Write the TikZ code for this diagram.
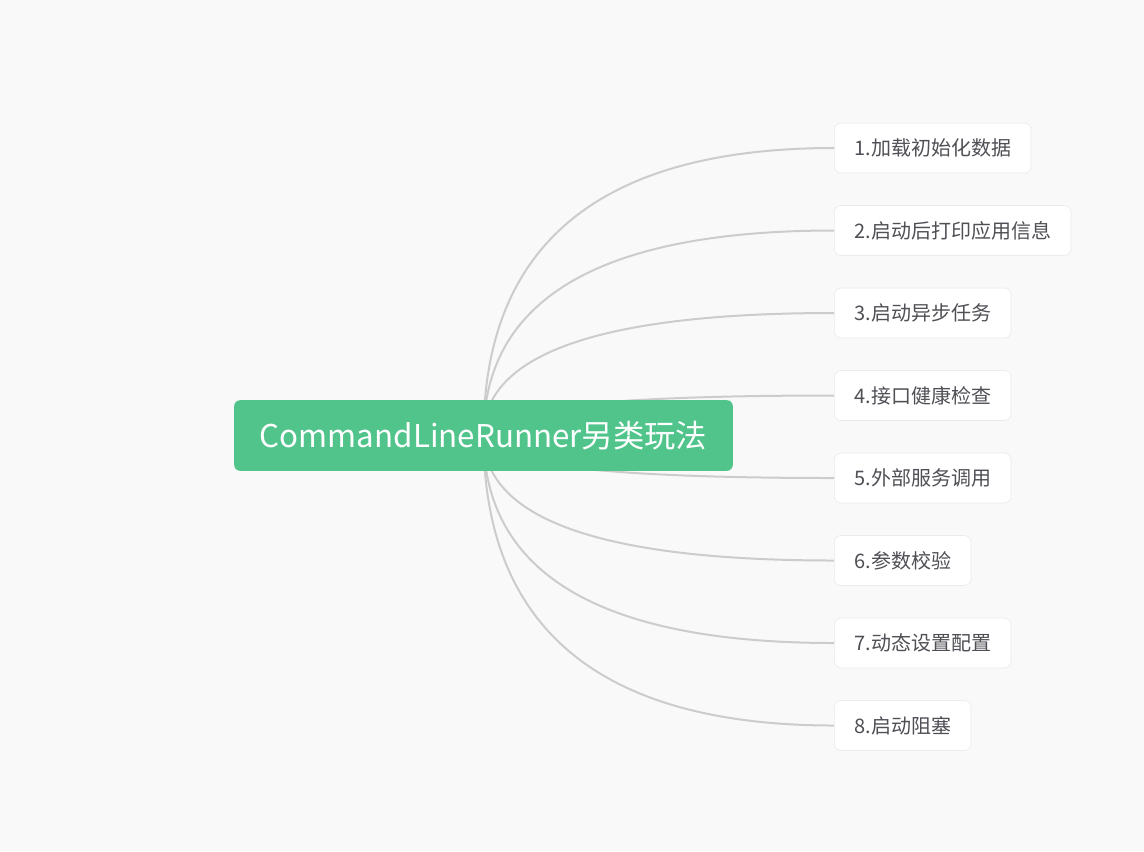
\documentclass[tikz,border=0pt]{standalone}
\usepackage{fontspec}
\setmainfont{Noto Sans CJK SC}
\usetikzlibrary{positioning,calc}
\definecolor{Paper}{HTML}{F9F9F9}
\definecolor{Mint}{HTML}{50C48B}
\definecolor{Ink}{HTML}{4F4F55}
\definecolor{Wire}{HTML}{CCCCCC}
\definecolor{Rim}{HTML}{EBEBEB}
\tikzset{
  rootbox/.style={fill=Mint,rounded corners=4.5pt,minimum width=374pt,minimum height=53pt,align=center,font=\fontsize{23.5}{28}\selectfont,text=white,inner sep=0pt},
  leafbox/.style={draw=Rim,line width=0.5pt,fill=white,rounded corners=5pt,minimum height=37.5pt,anchor=west,font=\fontsize{15}{18}\selectfont,text=Ink,inner xsep=15pt},
  branch/.style={draw=Wire,line width=1.5pt}
}

\begin{document}
\begin{tikzpicture}[x=0.75pt,y=-0.75pt]
  \fill[Paper] (0,0) rectangle (1144,851);
  % leaves
  \node[leafbox] (l1) at (834,148) {1.加载初始化数据};
  \node[leafbox] (l2) at (834,230.5) {2.启动后打印应用信息};
  \node[leafbox] (l3) at (834,313) {3.启动异步任务};
  \node[leafbox] (l4) at (834,395.5) {4.接口健康检查};
  \node[leafbox] (l5) at (834,478) {5.外部服务调用};
  \node[leafbox] (l6) at (834,560.5) {6.参数校验};
  \node[leafbox] (l7) at (834,643) {7.动态设置配置};
  \node[leafbox] (l8) at (834,725.5) {8.启动阻塞};
  \coordinate (hub) at (483.5,435.5);
  % branches
  \foreach \i in {1,...,8}
    \draw[branch] (hub) .. controls ($(hub)!2/3!(hub |- l\i.west)$) and ($(l\i.west)!2/3!(hub |- l\i.west)$) .. (l\i.west);
  \node[rootbox] (root) at (hub) {CommandLineRunner另类玩法};
\end{tikzpicture}
\end{document}
